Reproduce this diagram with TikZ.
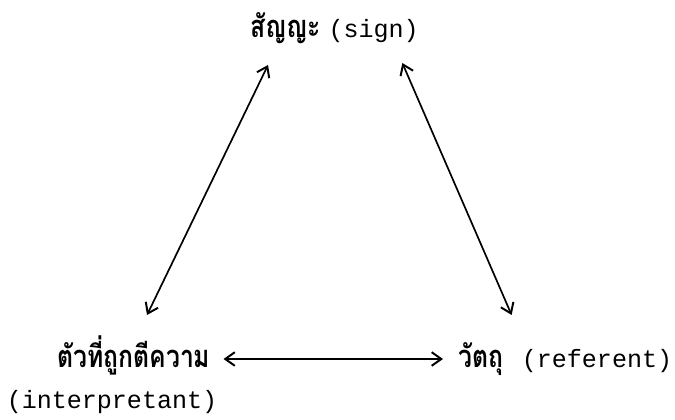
\documentclass[tikz,border=0pt]{standalone}
\usepackage{fontspec}
\newfontfamily\thaifont[Script=Thai]{Loma}
\setmonofont{Liberation Mono}
\usetikzlibrary{calc,arrows.meta}
\newcommand{\narrowtext}[1]{\scalebox{0.8}[1]{#1}}

\begin{document}
\begin{tikzpicture}[
  thai/.style={font=\thaifont\bfseries\fontsize{22}{26}\selectfont,inner sep=0pt,anchor=base west},
  latin/.style={font=\ttfamily\fontsize{17.8}{21}\selectfont,inner sep=0pt,anchor=base},
  link/.style={{Straight Barb[length=2.4mm,width=3.4mm,line width=1.4pt]}-{Straight Barb[length=2.4mm,width=3.4mm,line width=1.4pt]},line width=1.2pt}
]
  \useasboundingbox (0,0) rectangle (16.875,10.5);

  % Sign (top)
  \node[thai] (signTh) at (6.25,9.55) {\narrowtext{สัญญะ}};
  \node[latin] (signEn) at (9.34,9.55) {(sign)};

  % Interpretant (bottom left)
  \node[thai] (interp) at (1.425,1.325) {\narrowtext{ตัวที่ถูกตีความ}};
  \node[latin] (interpEn) at (2.8,0.3) {(interpretant)};

  % Referent (bottom right)
  \node[thai] (refTh) at (11.45,1.325) {\narrowtext{วัตถุ}};
  \node[latin] (refEn) at (14.925,1.325) {(referent)};

  % Triangle of links
  \draw[link] ($(signTh.base west)+(0.45,-0.675)$) -- ($(interp.base west)+(2.25,1.3)$);
  \draw[link] ($(signEn.base east)+(-0.415,-0.625)$) -- ($(refEn.base west)+(-0.25,1.3)$);
  \draw[link] ($(interp.base east)+(0.325,0.2)$) -- ($(refTh.base west)+(-0.375,0.2)$);
\end{tikzpicture}
\end{document}
